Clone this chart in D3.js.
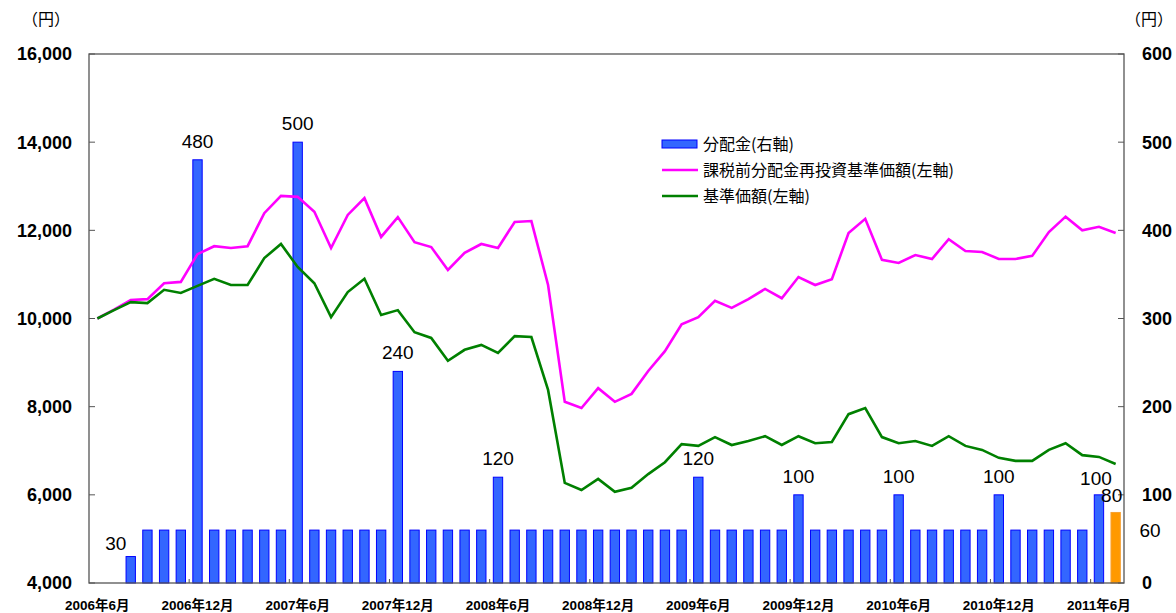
<!DOCTYPE html>
<html lang="ja">
<head>
    <meta charset="UTF-8">
    <title>分配金・基準価額の推移</title>
    <script src="https://d3js.org/d3.v7.min.js"></script>
    <style>
        body {
            margin: 0;
            background: #fff;
        }

        svg text {
            font-family: "Liberation Sans", Arial, "Noto Sans CJK JP", sans-serif;
            fill: #000;
        }

        .tick-label {
            font-size: 18px;
            font-weight: bold;
        }

        .x-label {
            font-size: 13.5px;
            font-weight: bold;
            font-family: "Liberation Sans", "Noto Sans CJK JP", sans-serif;
        }

        .data-label {
            font-size: 19px;
        }

        .legend text, .unit {
            font-family: "Noto Sans CJK JP", sans-serif;
            font-size: 16px;
        }
    </style>
</head>
<body>
    <script>
        const width = 1176;
        const height = 613;
        const margin = { top: 54, right: 52, bottom: 30, left: 89 };

        // monthly categories 2006/6 .. 2011/7
        const months = d3.range(62).map(i => {
            const m = 5 + i;
            return { year: 2006 + Math.floor(m / 12), month: (m % 12) + 1 };
        });

        const tickMonths = ["2006年6月", "2006年12月", "2007年6月", "2007年12月", "2008年6月", "2008年12月",
            "2009年6月", "2009年12月", "2010年6月", "2010年12月", "2011年6月"];

        // 分配金 (右軸)
        const dividends = [null, null, 30, 60, 60, 60, 480, 60, 60, 60, 60, 60,
            500, 60, 60, 60, 60, 60, 240, 60, 60, 60, 60, 60,
            120, 60, 60, 60, 60, 60, 60, 60, 60, 60, 60, 60,
            120, 60, 60, 60, 60, 60, 100, 60, 60, 60, 60, 60,
            100, 60, 60, 60, 60, 60, 100, 60, 60, 60, 60, 60,
            100, 80];

        // 課税前分配金再投資基準価額 (左軸)
        const reinvested = [10000, 10200, 10420, 10440, 10800, 10830, 11460, 11640, 11600, 11640, 12390, 12780,
            12760, 12420, 11600, 12350, 12730, 11850, 12300, 11730, 11620, 11100, 11490, 11690,
            11600, 12190, 12210, 10760, 8110, 7970, 8420, 8110, 8290, 8810, 9260, 9870,
            10030, 10400, 10240, 10440, 10670, 10460, 10940, 10760, 10890, 11940, 12260, 11330,
            11260, 11440, 11350, 11800, 11530, 11510, 11350, 11350, 11420, 11960, 12310, 12000,
            12080, 11940];

        // 基準価額 (左軸)
        const nav = [10000, 10190, 10370, 10350, 10650, 10580, 10740, 10900, 10760, 10760, 11370, 11690,
            11170, 10800, 10030, 10600, 10900, 10080, 10190, 9690, 9560, 9040, 9290, 9400,
            9220, 9600, 9580, 8380, 6270, 6110, 6360, 6070, 6160, 6470, 6740, 7150,
            7110, 7310, 7130, 7220, 7330, 7130, 7330, 7170, 7200, 7830, 7970, 7310,
            7170, 7220, 7110, 7330, 7110, 7020, 6840, 6770, 6770, 7020, 7170, 6900,
            6860, 6700];

        const leftTicks = [4000, 6000, 8000, 10000, 12000, 14000, 16000];
        const rightTicks = [0, 100, 200, 300, 400, 500, 600];

        // labelled bars: index, text
        const barLabels = [
            { i: 2, text: "30", dx: -15, dy: -7 },
            { i: 6, text: "480" },
            { i: 12, text: "500" },
            { i: 18, text: "240" },
            { i: 24, text: "120" },
            { i: 36, text: "120" },
            { i: 42, text: "100" },
            { i: 48, text: "100" },
            { i: 54, text: "100" },
            { i: 60, text: "100", dx: -3, dy: -10 },
            { i: 61, text: "80", dx: -4, dy: -10 }
        ];

        const legendItems = [
            { name: "分配金(右軸)", type: "bar", color: "#3366ff" },
            { name: "課税前分配金再投資基準価額(左軸)", type: "line", color: "#ff00ff" },
            { name: "基準価額(左軸)", type: "line", color: "#008000" }
        ];

        const x0 = margin.left, x1 = width - margin.right;
        const y0 = height - margin.bottom, y1 = margin.top;

        const x = d3.scaleBand()
            .domain(d3.range(months.length))
            .range([x0, x1])
            .padding(0);

        const yL = d3.scaleLinear().domain([4000, 16000]).range([y0, y1]);
        const yR = d3.scaleLinear().domain([0, 600]).range([y0, y1]);

        const cx = i => x(i) + x.bandwidth() / 2;
        const barW = x.bandwidth() * 0.56;

        const svg = d3.select("body").append("svg")
            .attr("width", width)
            .attr("height", height);

        // bars
        svg.append("g")
            .selectAll("rect")
            .data(dividends.map((v, i) => ({ v, i })).filter(d => d.v !== null))
            .join("rect")
            .attr("x", d => cx(d.i) - barW / 2)
            .attr("y", d => yR(d.v))
            .attr("width", barW)
            .attr("height", d => y0 - yR(d.v))
            .attr("fill", d => d.i === months.length - 1 ? "#ff9900" : "#3366ff")
            .attr("stroke", d => d.i === months.length - 1 ? "#f7a030" : "#0000ff")
            .attr("stroke-width", 1);

        // frame
        svg.append("rect")
            .attr("x", x0)
            .attr("y", y1)
            .attr("width", x1 - x0)
            .attr("height", y0 - y1)
            .attr("fill", "none")
            .attr("stroke", "#555")
            .attr("stroke-width", 1.3);

        // lines
        const line = d3.line()
            .x((d, i) => cx(i))
            .y(d => yL(d));

        [[reinvested, "#ff00ff"], [nav, "#008000"]].forEach(([series, color]) => {
            svg.append("path")
                .datum(series)
                .attr("fill", "none")
                .attr("stroke", color)
                .attr("stroke-width", 2.6)
                .attr("stroke-linejoin", "miter")
                .attr("d", line);
        });

        // left axis
        const leftAxis = svg.append("g");
        leftAxis.selectAll("line")
            .data(leftTicks)
            .join("line")
            .attr("x1", x0).attr("x2", x0 + 6)
            .attr("y1", d => yL(d)).attr("y2", d => yL(d))
            .attr("stroke", "#555");
        leftAxis.selectAll("text")
            .data(leftTicks)
            .join("text")
            .attr("class", "tick-label")
            .attr("x", 72)
            .attr("y", d => yL(d))
            .attr("dy", "0.36em")
            .attr("text-anchor", "end")
            .text(d => d3.format(",")(d));

        // right axis
        const rightAxis = svg.append("g");
        rightAxis.selectAll("line")
            .data(rightTicks)
            .join("line")
            .attr("x1", x1 - 6).attr("x2", x1)
            .attr("y1", d => yR(d)).attr("y2", d => yR(d))
            .attr("stroke", "#555");
        rightAxis.selectAll("text")
            .data(rightTicks)
            .join("text")
            .attr("class", "tick-label")
            .attr("x", 1142)
            .attr("y", d => yR(d))
            .attr("dy", "0.36em")
            .text(d => d);

        // x axis ticks and labels
        const tickIdx = tickMonths.map((t, k) => k * 6);
        svg.append("g").selectAll("line")
            .data(tickIdx.slice(1))
            .join("line")
            .attr("x1", d => x(d)).attr("x2", d => x(d))
            .attr("y1", y0).attr("y2", y0 - 4)
            .attr("stroke", "#555");
        svg.append("g").selectAll("text")
            .data(tickMonths)
            .join("text")
            .attr("class", "x-label")
            .attr("x", (d, k) => cx(tickIdx[k]))
            .attr("y", 610)
            .attr("text-anchor", "middle")
            .text(d => d);

        // units
        svg.append("text").attr("class", "unit").attr("x", 22).attr("y", 25).text("（円）");
        svg.append("text").attr("class", "unit").attr("x", 1173).attr("y", 25)
            .attr("text-anchor", "end").text("（円）");

        // data labels
        svg.append("g").selectAll("text")
            .data(barLabels)
            .join("text")
            .attr("class", "data-label")
            .attr("x", d => cx(d.i) + (d.dx || 0))
            .attr("y", d => yR(dividends[d.i]) + (d.dy || -12))
            .attr("text-anchor", "middle")
            .text(d => d.text);

        svg.append("text")
            .attr("class", "data-label")
            .attr("x", x1 + 26)
            .attr("y", yR(60))
            .attr("dy", "0.36em")
            .attr("text-anchor", "middle")
            .text("60");

        // legend
        const legend = svg.append("g")
            .attr("class", "legend")
            .attr("transform", "translate(662,144)");
        const item = legend.selectAll("g")
            .data(legendItems)
            .join("g")
            .attr("transform", (d, k) => `translate(0,${k * 26})`);
        item.filter(d => d.type === "bar").append("rect")
            .attr("x", 0).attr("y", -4)
            .attr("width", 35).attr("height", 8)
            .attr("fill", d => d.color)
            .attr("stroke", "#0000ff");
        item.filter(d => d.type === "line").append("line")
            .attr("x1", 0).attr("x2", 36)
            .attr("y1", 0).attr("y2", 0)
            .attr("stroke", d => d.color)
            .attr("stroke-width", 2.6);
        item.append("text")
            .attr("x", 41)
            .attr("dy", "0.35em")
            .text(d => d.name);
    </script>
</body>
</html>
